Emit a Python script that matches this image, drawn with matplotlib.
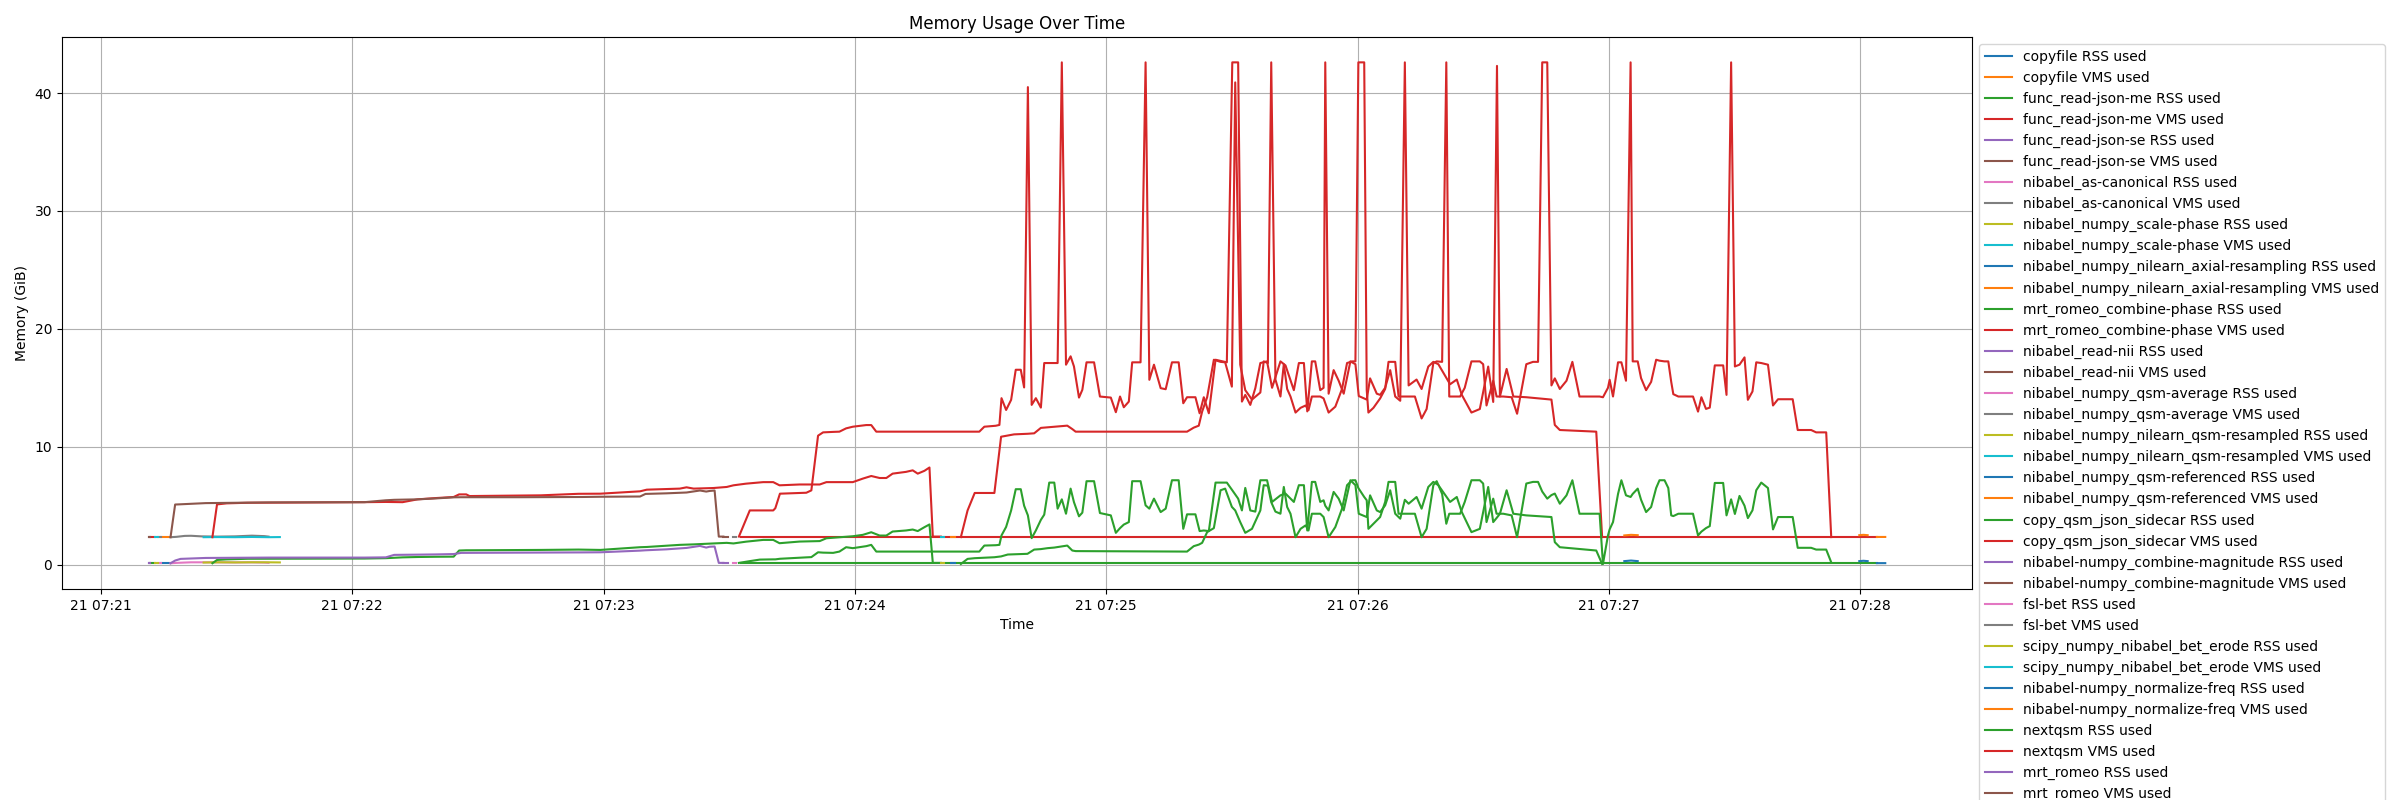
import matplotlib
matplotlib.use("Agg")
import matplotlib.pyplot as plt
import numpy as np

nan = np.nan
start = np.datetime64("2024-05-21T07:21:00")

# seconds after 07:21:00, VMS (GiB), RSS (GiB) per process
copyfile_t = [14.3, 15.5, 16.6]
copyfile_vms = [2.33, 2.33, 2.33]
copyfile_rss = [0.12, 0.12, 0.12]

read_json_me_t = [11.7, 12.8, 100.0, 152.9, 200.0, 260.0, 320.0, 380.0, 424.0]
read_json_me_vms = [2.33, 2.33, nan, 2.35, 2.35, 2.35, 2.35, 2.35, 2.35]
read_json_me_rss = [0.12, 0.12, nan, 0.13, 0.13, 0.13, 0.13, 0.13, 0.13]

read_json_se_t = [11.4, 11.7]
read_json_se_vms = [2.33, 2.33]
read_json_se_rss = [0.12, 0.12]

as_canonical_t = [16.6, 18.0, 20.0, 21.5, 24.0, 28.0, 32.0, 36.0, 39.0, 40.0]
as_canonical_vms = [2.33, 2.36, 2.44, 2.45, 2.4, 2.38, 2.4, 2.46, 2.42, 2.38]
as_canonical_rss = [0.12, 0.15, 0.18, 0.2, 0.2, 0.2, 0.19, 0.2, 0.18, 0.16]

scale_phase_t = [24.5, 28.0, 32.0, 36.0, 40.0, 42.7]
scale_phase_vms = [2.33, 2.34, 2.33, 2.35, 2.33, 2.34]
scale_phase_rss = [0.18, 0.2, 0.19, 0.2, 0.2, 0.19]

axial_resampling_t = [203.0, 204.0]
axial_resampling_vms = [2.38, 2.38]
axial_resampling_rss = [0.15, 0.15]

combine_phase_t = [26.6, 27.7, 30.0, 35.0, 62.9, 68.0, 72.0, 75.6, 80.0, 84.2,
                   85.5, 87.2, 88.0, 105.0, 114.0, 119.2, 128.7, 130.3, 138.2, 139.8,
                   141.5, 146.2, 149.4, 151.0, 154.0, 158.1, 160.5, 162.0, 166.8, 171.6,
                   173.2, 179.5, 181.9, 183.9, 185.9, 187.5, 189.0, 192.2, 193.8, 195.0,
                   196.6, 197.8, 198.6, 200.5]
combine_phase_vms = [2.33, 5.11, 5.2, 5.25, 5.3, 5.32, 5.3, 5.54, 5.65, 5.74,
                     5.96, 5.96, 5.82, 5.88, 6.01, 6.02, 6.22, 6.36, 6.45, 6.56,
                     6.45, 6.5, 6.59, 6.73, 6.87, 7.0, 7.0, 6.73, 6.8, 6.8,
                     7.0, 7.0, 7.3, 7.52, 7.35, 7.35, 7.72, 7.87, 8.0, 7.72,
                     7.96, 8.24, 2.38, 2.38]
combine_phase_rss = [0.12, 0.4, 0.45, 0.5, 0.52, 0.55, 0.62, 0.65, 0.67, 0.68,
                     1.2, 1.22, 1.22, 1.25, 1.28, 1.25, 1.48, 1.5, 1.68, 1.7,
                     1.72, 1.8, 1.85, 1.8, 1.95, 2.1, 2.1, 1.82, 1.96, 2.0,
                     2.24, 2.41, 2.53, 2.75, 2.47, 2.47, 2.81, 2.9, 2.98, 2.85,
                     3.18, 3.41, 0.15, 0.15]

read_nii_t = [148.6, 149.6]
read_nii_vms = [2.38, 2.38]
read_nii_rss = [0.15, 0.15]

qsm_average_t = [13.6, 14.3]
qsm_average_vms = [2.33, 2.33]
qsm_average_rss = [0.12, 0.12]

qsm_resampled_t = [12.8, 13.6]
qsm_resampled_vms = [2.33, 2.33]
qsm_resampled_rss = [0.12, 0.12]

qsm_referenced_t = [363.7, 365.3, 366.9]
qsm_referenced_vms = [2.48, 2.53, 2.5]
qsm_referenced_rss = [0.3, 0.35, 0.3]

sidecar_t = [152.3, 154.9, 157.3, 160.5, 161.0, 162.1, 168.4, 169.6, 171.2, 172.4,
             174.8, 176.3, 177.9, 179.5, 182.7, 183.9, 185.1, 209.7, 210.9, 213.6,
             214.5, 215.0, 216.1, 217.3, 218.4, 219.6, 220.4, 221.3, 222.2, 223.2,
             224.4, 225.2, 226.4, 227.6, 228.4, 229.4, 230.4, 231.5, 232.3, 233.5,
             234.3, 235.3, 237.1, 238.5, 241.1, 242.3, 243.3, 244.2, 245.4, 246.2,
             248.2, 249.4, 250.3, 251.4, 253.0, 254.2, 255.7, 257.3, 258.4, 259.3,
             261.3, 262.3, 263.3, 264.5, 266.1, 268.8, 270.1, 271.5, 272.4, 273.2,
             274.4, 275.6, 276.8, 278.4, 279.6, 281.6, 282.8, 284.8, 286.0, 287.2,
             288.0, 289.1, 289.9, 291.1, 291.9, 292.3, 293.1, 294.3, 295.5, 296.7,
             298.3, 299.5, 300.3, 302.2, 303.0, 304.6, 305.4, 306.6, 307.8, 309.0,
             310.2, 311.3, 312.2, 314.1, 315.3, 316.9, 318.1, 319.3, 322.1, 323.7,
             324.9, 327.2, 329.2, 331.2, 332.4, 333.3, 334.0, 335.6, 337.2, 340.3,
             346.3, 347.1, 348.3, 357.0, 358.4]
sidecar_vms = [2.38, 4.6, 4.6, 4.6, 4.79, 6.02, 6.1, 6.3, 10.94, 11.22,
               11.26, 11.28, 11.56, 11.7, 11.84, 11.84, 11.28, 11.28, 11.7, 11.78,
               11.85, 14.12, 13.12, 13.98, 16.53, 16.53, 15.03, 40.5, 13.55, 14.12,
               13.32, 17.1, 17.1, 17.1, 17.1, 42.6, 16.96, 17.67, 16.81, 14.17,
               14.83, 17.16, 17.16, 14.26, 14.17, 12.93, 14.26, 13.35, 13.83, 17.16,
               17.16, 42.6, 15.68, 16.96, 14.97, 14.88, 17.16, 17.16, 13.69, 14.2,
               14.2, 12.84, 14.2, 12.84, 17.38, 17.16, 42.6, 42.6, 13.83, 14.4,
               13.55, 14.97, 17.1, 17.24, 15.0, 17.24, 16.9, 14.8, 17.1, 17.1,
               13.0, 17.24, 17.24, 14.8, 15.0, 42.6, 14.5, 16.5, 15.6, 14.5,
               17.24, 17.0, 14.3, 14.0, 15.8, 14.5, 14.4, 15.0, 16.5, 14.26,
               13.9, 42.6, 15.2, 15.7, 14.9, 16.8, 17.2, 17.0, 15.3, 15.7,
               14.4, 12.9, 13.2, 16.8, 13.8, 42.3, 14.26, 16.6, 14.26, 14.2,
               14.0, 11.85, 11.42, 11.28, 2.34]
sidecar_rss = [0.15, 0.3, 0.43, 0.45, 0.45, 0.5, 0.62, 0.64, 1.05, 1.02,
               1.0, 1.11, 1.48, 1.4, 1.57, 1.68, 1.11, 1.11, 1.62, 1.65,
               1.68, 2.48, 3.2, 4.6, 6.4, 6.4, 5.0, 4.18, 2.25, 2.9,
               3.8, 4.24, 6.96, 6.96, 4.75, 5.54, 4.32, 6.45, 5.3, 4.1,
               4.41, 7.08, 7.08, 4.38, 4.18, 2.7, 3.1, 3.4, 3.61, 7.08,
               7.08, 5.03, 4.75, 5.6, 4.46, 4.75, 7.16, 7.16, 3.04, 4.27,
               4.27, 2.85, 2.9, 2.85, 6.96, 6.96, 6.31, 5.6, 4.6, 6.51,
               4.6, 4.5, 7.16, 7.16, 5.32, 5.88, 6.03, 5.32, 6.74, 6.74,
               2.9, 7.02, 7.02, 5.32, 5.46, 5.0, 4.6, 6.17, 5.6, 4.6,
               7.16, 6.74, 4.32, 4.04, 5.88, 4.6, 4.46, 5.03, 6.31, 4.32,
               3.9, 5.5, 5.17, 5.74, 4.75, 6.59, 7.02, 6.74, 5.32, 5.74,
               4.46, 2.76, 3.04, 6.59, 3.61, 4.0, 4.32, 6.31, 4.32, 4.18,
               4.04, 1.91, 1.48, 1.2, 0.06]

combine_magnitude_t = [11.4, 11.7]
combine_magnitude_vms = [2.33, 2.33]
combine_magnitude_rss = [0.12, 0.12]

fsl_bet_t = [151.0, 151.7]
fsl_bet_vms = [2.38, 2.38]
fsl_bet_rss = [0.15, 0.15]

bet_erode_t = [200.5, 201.3]
bet_erode_vms = [2.36, 2.36]
bet_erode_rss = [0.13, 0.13]

normalize_freq_t = [419.8, 420.8, 421.8, 423.0, 424.0, 426.0]
normalize_freq_vms = [2.5, 2.53, 2.5, nan, 2.35, 2.35]
normalize_freq_rss = [0.3, 0.33, 0.3, nan, 0.13, 0.13]

nextqsm_t = [205.3, 206.9, 208.6, 213.3, 214.9, 216.5, 218.0, 221.2, 222.8, 224.4,
             226.0, 227.6, 230.7, 231.9, 232.7, 259.3, 260.9, 262.1, 262.9, 264.1,
             265.7, 267.3, 268.4, 270.0, 270.8, 272.0, 273.2, 274.8, 276.8, 277.6,
             278.6, 279.4, 280.4, 281.6, 282.4, 283.2, 284.0, 285.2, 286.4, 287.6,
             288.3, 289.1, 291.1, 291.9, 293.1, 294.7, 296.3, 297.5, 298.7, 299.5,
             300.2, 301.6, 302.2, 302.6, 303.8, 305.4, 306.6, 307.4, 309.0, 309.8,
             311.8, 313.7, 315.3, 316.5, 318.1, 318.9, 320.2, 321.2, 321.9, 324.5,
             325.6, 327.2, 329.2, 330.0, 330.8, 332.4, 333.2, 334.8, 336.8, 338.1,
             340.3, 341.9, 343.1, 344.1, 345.3, 346.3, 347.1, 348.3, 349.9, 351.3,
             353.0, 357.8, 358.6, 359.8, 360.2, 361.0, 362.2, 363.0, 364.1, 365.2,
             365.7, 366.9, 367.7, 368.9, 370.1, 371.3, 372.1, 373.3, 374.2, 374.9,
             375.4, 376.6, 380.1, 381.3, 382.1, 383.2, 384.1, 385.3, 387.3, 388.1,
             389.2, 390.1, 391.2, 392.4, 393.2, 394.3, 395.2, 396.4, 398.0, 399.2,
             400.4, 403.9, 405.1, 408.3, 409.5, 411.9, 413.1]
nextqsm_vms = [2.34, 4.6, 6.08, 6.08, 10.85, 10.95, 11.05, 11.1, 11.14, 11.6,
               11.65, 11.7, 11.79, 11.5, 11.28, 11.28, 11.62, 11.79, 12.98, 14.2,
               17.38, 17.2, 17.16, 15.1, 40.9, 16.96, 14.8, 14.0, 14.6, 17.24,
               17.1, 42.6, 15.7, 14.26, 17.0, 14.9, 14.26, 12.9, 13.3, 13.5,
               13.1, 14.26, 14.26, 14.1, 12.9, 13.4, 14.9, 17.1, 17.24, 17.24,
               42.6, 42.6, 14.8, 12.9, 13.3, 14.1, 14.9, 17.2, 17.2, 14.26,
               14.26, 14.26, 12.4, 13.2, 17.1, 17.24, 17.2, 42.6, 14.26, 14.26,
               15.0, 17.24, 17.24, 17.0, 13.5, 15.6, 14.26, 14.26, 14.2, 12.8,
               17.0, 17.2, 17.2, 42.6, 42.6, 15.2, 15.8, 14.9, 15.6, 17.2,
               14.26, 14.26, 14.2, 15.0, 15.68, 14.26, 17.16, 17.16, 15.6, 42.6,
               17.24, 17.24, 15.82, 14.8, 15.5, 17.38, 17.3, 17.24, 17.24, 15.5,
               14.46, 14.26, 14.26, 12.98, 14.2, 13.21, 13.32, 16.9, 16.9, 14.4,
               42.6, 16.81, 16.96, 17.58, 13.98, 14.69, 17.16, 17.1, 16.96, 13.5,
               14.03, 14.03, 11.42, 11.42, 11.22, 11.22, 2.34]
nextqsm_rss = [0.06, 0.49, 0.55, 0.63, 0.7, 0.86, 0.88, 0.92, 1.28, 1.32,
               1.4, 1.45, 1.62, 1.2, 1.15, 1.11, 1.57, 1.7, 1.85, 2.76,
               3.1, 6.31, 6.45, 4.9, 4.6, 3.61, 2.7, 3.04, 4.6, 6.74,
               6.7, 5.3, 4.5, 4.32, 6.59, 4.89, 4.32, 2.33, 3.04, 3.33,
               2.9, 4.32, 4.32, 4.04, 2.33, 3.19, 4.75, 6.74, 7.16, 7.16,
               6.5, 5.74, 5.46, 3.04, 3.47, 4.04, 5.32, 7.02, 7.02, 4.32,
               4.32, 4.32, 2.33, 3.04, 6.74, 7.08, 6.0, 3.47, 4.32, 4.32,
               5.32, 7.16, 7.16, 6.88, 3.61, 5.6, 4.32, 4.32, 4.18, 2.33,
               6.88, 7.02, 7.02, 6.2, 5.6, 5.9, 6.03, 5.17, 5.88, 7.16,
               4.32, 4.32, 0.06, 2.48, 3.0, 3.61, 6.0, 7.16, 5.88, 5.74,
               6.0, 6.45, 5.5, 4.46, 4.89, 6.5, 7.16, 7.16, 6.5, 4.18,
               4.12, 4.32, 4.32, 2.48, 2.8, 3.1, 3.27, 6.93, 6.93, 4.18,
               5.54, 4.3, 5.83, 5.0, 3.95, 4.61, 6.31, 6.96, 6.5, 2.99,
               4.04, 4.04, 1.43, 1.43, 1.28, 1.28, 0.2]

mrt_romeo_t = [16.6, 17.7, 19.0, 25.0, 40.0, 62.9, 68.0, 70.0, 75.6, 80.0,
               84.2, 86.0, 100.0, 115.0, 119.2, 128.7, 130.0, 135.0, 139.8, 143.0,
               144.5, 145.3, 146.5, 147.5, 148.6]
mrt_romeo_vms = [2.33, 5.1, 5.12, 5.22, 5.28, 5.3, 5.46, 5.5, 5.54, 5.62,
                 5.71, 5.72, 5.72, 5.74, 5.76, 5.78, 6.0, 6.05, 6.12, 6.29,
                 6.2, 6.25, 6.29, 2.38, 2.38]
mrt_romeo_rss = [0.12, 0.35, 0.49, 0.57, 0.6, 0.6, 0.62, 0.83, 0.85, 0.87,
                 0.9, 1.0, 1.02, 1.04, 1.05, 1.19, 1.22, 1.3, 1.42, 1.59,
                 1.45, 1.52, 1.54, 0.15, 0.15]

processes = [
    ("copyfile", copyfile_t, copyfile_rss, copyfile_vms),
    ("func_read-json-me", read_json_me_t, read_json_me_rss, read_json_me_vms),
    ("func_read-json-se", read_json_se_t, read_json_se_rss, read_json_se_vms),
    ("nibabel_as-canonical", as_canonical_t, as_canonical_rss, as_canonical_vms),
    ("nibabel_numpy_scale-phase", scale_phase_t, scale_phase_rss, scale_phase_vms),
    ("nibabel_numpy_nilearn_axial-resampling", axial_resampling_t, axial_resampling_rss, axial_resampling_vms),
    ("mrt_romeo_combine-phase", combine_phase_t, combine_phase_rss, combine_phase_vms),
    ("nibabel_read-nii", read_nii_t, read_nii_rss, read_nii_vms),
    ("nibabel_numpy_qsm-average", qsm_average_t, qsm_average_rss, qsm_average_vms),
    ("nibabel_numpy_nilearn_qsm-resampled", qsm_resampled_t, qsm_resampled_rss, qsm_resampled_vms),
    ("nibabel_numpy_qsm-referenced", qsm_referenced_t, qsm_referenced_rss, qsm_referenced_vms),
    ("copy_qsm_json_sidecar", sidecar_t, sidecar_rss, sidecar_vms),
    ("nibabel-numpy_combine-magnitude", combine_magnitude_t, combine_magnitude_rss, combine_magnitude_vms),
    ("fsl-bet", fsl_bet_t, fsl_bet_rss, fsl_bet_vms),
    ("scipy_numpy_nibabel_bet_erode", bet_erode_t, bet_erode_rss, bet_erode_vms),
    ("nibabel-numpy_normalize-freq", normalize_freq_t, normalize_freq_rss, normalize_freq_vms),
    ("nextqsm", nextqsm_t, nextqsm_rss, nextqsm_vms),
    ("mrt_romeo", mrt_romeo_t, mrt_romeo_rss, mrt_romeo_vms),
]


def to_times(seconds):
    ms = (np.asarray(seconds) * 1000).astype("int64").astype("timedelta64[ms]")
    return start + ms


fig = plt.figure(figsize=(24, 8), dpi=100)
ax = fig.add_subplot(1, 1, 1)
for name, t, rss, vms in processes:
    times = to_times(t)
    ax.plot(times, rss, label=f"{name} RSS used")
    ax.plot(times, vms, label=f"{name} VMS used")

ax.set_title("Memory Usage Over Time")
ax.set_xlabel("Time")
ax.set_ylabel("Memory (GiB)")
ax.grid(True)
ax.legend(loc="upper left", bbox_to_anchor=(1, 1))
fig.subplots_adjust(left=0.0258, right=0.8217, bottom=0.2637, top=0.9534)
fig.savefig("out.png")
